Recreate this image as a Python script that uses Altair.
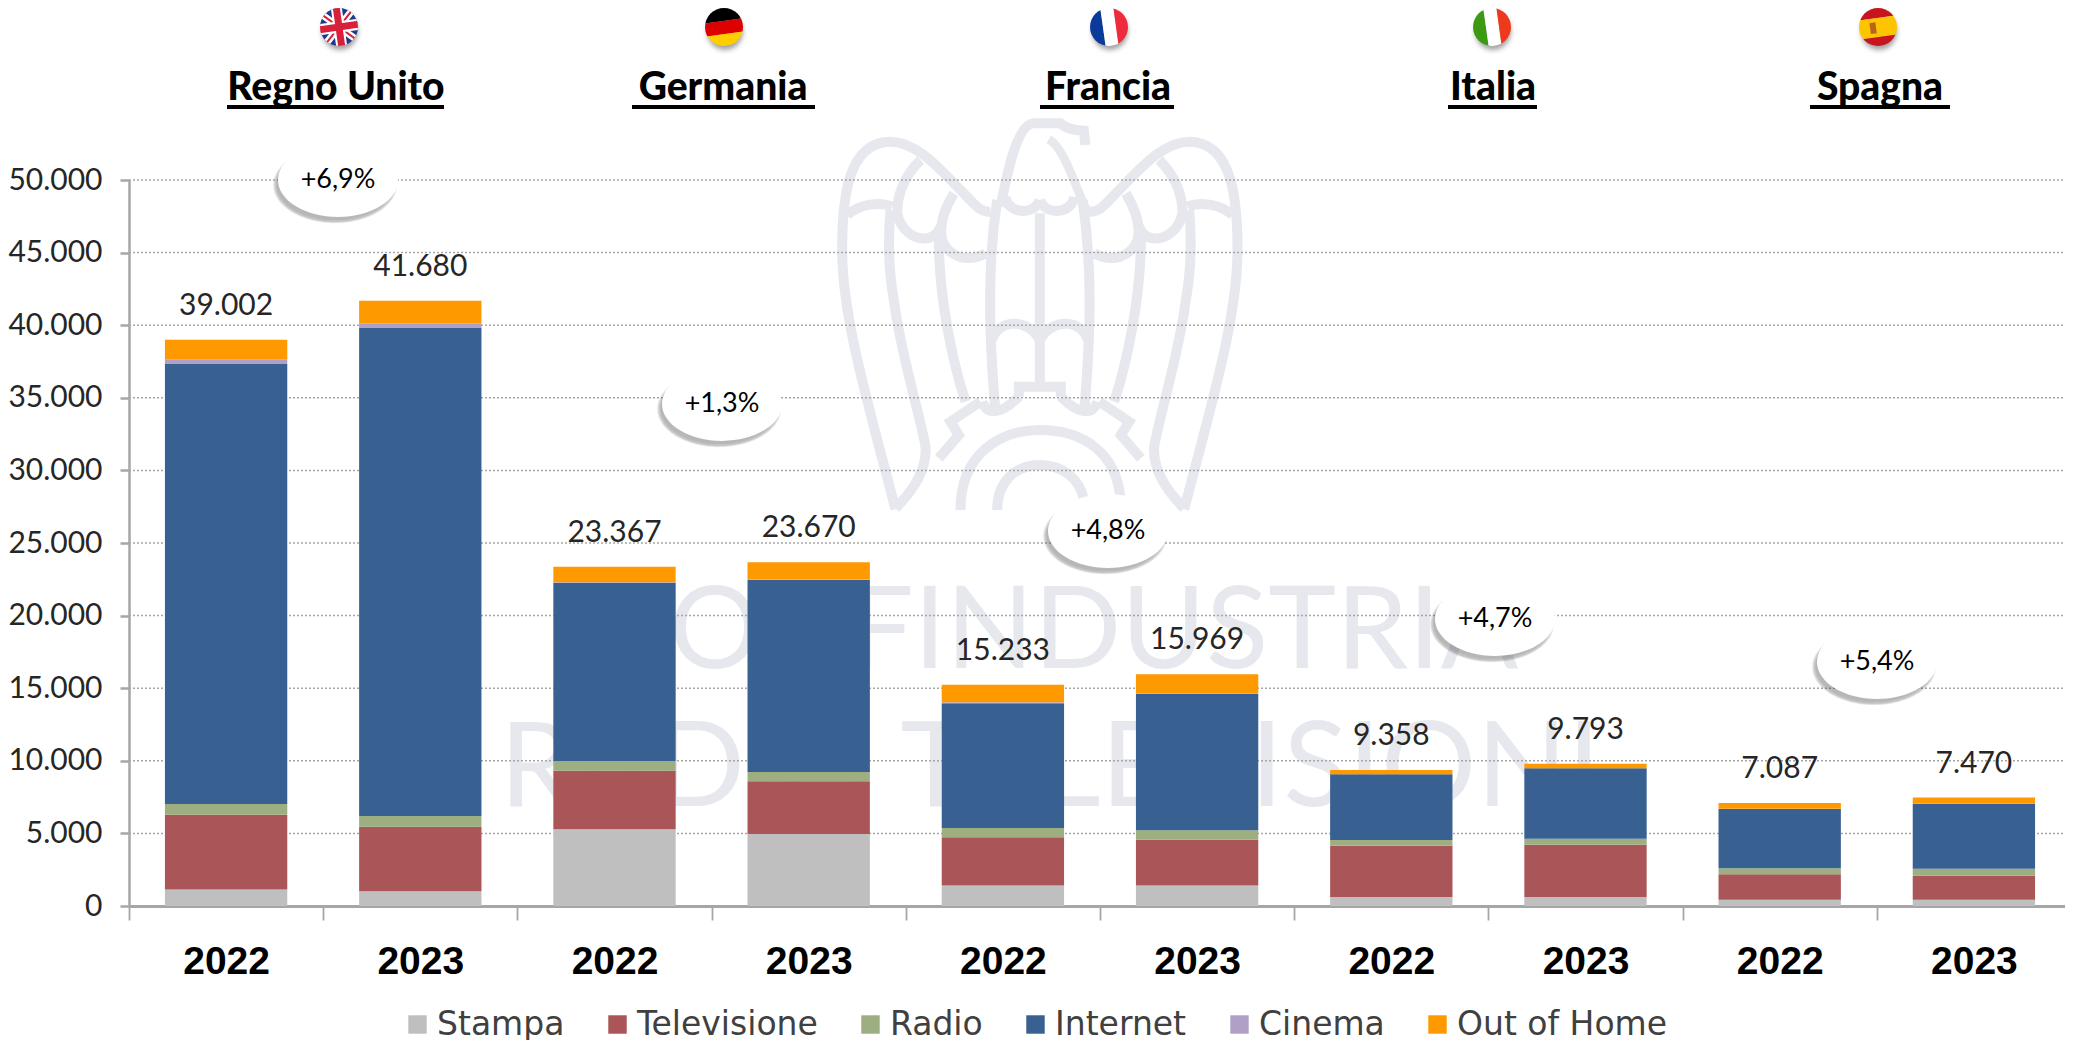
import base64
import altair as alt
import pandas as pd

# ---------- data ----------
COUNTRIES = ["Regno Unito", "Germania", "Francia", "Italia", "Spagna"]
YEARS = ["2022", "2023"]
SERIES = ["Stampa", "Televisione", "Radio", "Internet", "Cinema", "Out of Home"]
COLORS = ["#BFBFBF", "#AA5659", "#9DAF81", "#386192", "#B0A0C8", "#FF9900"]
STAMPA = [1130, 1020, 5280, 4960, 1420, 1420, 620, 620, 436, 436]
TELEVISIONE = [5160, 4445, 4040, 3625, 3308, 3148, 3535, 3604, 1744, 1652]
RADIO = [735, 735, 666, 645, 644, 644, 390, 413, 414, 483]
INTERNET = [30305, 33650, 12284, 13220, 8585, 9388, 4525, 4845, 4086, 4454]
CINEMA = [320, 280, 30, 30, 70, 50, 10, 8, 20, 15]
OUT_OF_HOME = [1352, 1550, 1067, 1190, 1206, 1319, 278, 303, 387, 430]
TOTALS = [39002, 41680, 23367, 23670, 15233, 15969, 9358, 9793, 7087, 7470]
GROWTH = ["+6,9%", "+1,3%", "+4,8%", "+4,7%", "+5,4%"]
TICKS = [5000, 10000, 15000, 20000, 25000, 30000, 35000, 40000, 45000, 50000]
WATERMARK = ["CONFINDUSTRIA", "RADIO TELEVISIONI"]

# ---------- layout (page pixels) ----------
OX, OY = 129, 180
W, H = 1942, 726
FLAG_X = [339, 724, 1109, 1492, 1878]
TITLE_X = [336, 723, 1108, 1493, 1880]
RULE_X1 = [227, 632, 1040, 1448, 1810]
RULE_X2 = [444, 815, 1174, 1537, 1950]
BUBBLE_X = [338, 722, 1108, 1495, 1877]
BUBBLE_Y = [180, 404, 531, 619, 662]
FONT = "Lato"
TEXTC = "#262626"
GRID = "#A6A6A6"
WM = "#E6E8EE"

keys = [f"{c} {y}" for c in COUNTRIES for y in YEARS]
arrays = [STAMPA, TELEVISIONE, RADIO, INTERNET, CINEMA, OUT_OF_HOME]
bars = pd.DataFrame(
    [{"k": k, "s": s, "o": j, "v": arr[i]}
     for j, (s, arr) in enumerate(zip(SERIES, arrays))
     for i, k in enumerate(keys)]
)
totals = pd.DataFrame({"k": keys, "v": TOTALS,
                       "t": [f"{t:,}".replace(",", ".") for t in TOTALS]})
grid = pd.DataFrame({"v": TICKS})

yscale = alt.Scale(domain=[0, 50000], nice=False)
yaxis = alt.Axis(
    values=[0] + TICKS, title=None, grid=False,
    labelExpr="replace(format(datum.value, ',d'), ',', '.')",
    labelFont=FONT, labelFontSize=30, labelColor=TEXTC, labelPadding=18,
    domainColor=GRID, domainWidth=2.5, tickColor=GRID, tickWidth=2.5, tickSize=9,
)
Y = alt.Y("v:Q", scale=yscale, axis=yaxis)
X = alt.X(
    "k:N", sort=keys, title=None,
    scale=alt.Scale(domain=keys, paddingInner=0, paddingOuter=0, round=False),
    axis=alt.Axis(
        labelExpr="slice(datum.label, -4)", labelAngle=0,
        labelFont="Liberation Sans", labelFontWeight="bold", labelFontSize=39,
        labelColor="#000000", labelPadding=22, tickBand="extent",
        tickSize=14, tickWidth=1.8, tickColor=GRID,
        domainColor=GRID, domainWidth=3,
    ),
)


def uri(svg):
    return "data:image/svg+xml;base64," + base64.b64encode(svg.encode()).decode()


def px(vals):
    return [v - OX for v in vals]


def py(vals):
    return [v - OY for v in vals]


XP = alt.X("x:Q", scale=None, axis=None)
YP = alt.Y("y:Q", scale=None, axis=None)

# ---------- watermark ----------
half = (
    "M285 1228C200 900 125 650 125 450C125 300 140 125 270 125C350 125 420 210 490 280"
    "C520 312 540 338 570 335"
    "M140 345C180 310 240 305 275 320M270 330C262 420 262 500 280 600C300 760 360 950 375 1040"
    "C380 1110 340 1170 285 1225"
    "M360 180C310 230 290 280 290 340C300 390 340 420 380 415C410 410 420 385 425 370"
    "M460 280C430 330 415 380 425 420C445 470 500 490 555 460"
    "M415 420C415 600 460 800 495 905"
    "M590 300C560 500 565 700 585 935"
    "M615 290C620 340 700 350 718 300"
    "M575 720C590 660 680 650 718 720"
    "M655 890L655 860L718 860"
    "M545 905C560 945 600 945 655 890M540 905L450 965L475 1005L415 1075"
)
eagle_svg = (
    '<svg xmlns="http://www.w3.org/2000/svg" viewBox="0 0 1437 1320" width="480" height="440">'
    f'<g fill="none" stroke="{WM}" stroke-width="30">'
    f'<path d="{half}"/>'
    f'<path d="{half}" transform="translate(1436 0) scale(-1 1)"/>'
    '<path d="M718 340L718 860"/>'
    '<path d="M600 320C620 220 650 70 700 70L780 70C800 90 830 90 850 92L855 135"/>'
    '<path d="M745 118C800 150 835 300 865 340" stroke-width="26"/>'
    '<path d="M480 1230C480 1060 600 990 718 990C850 990 950 1060 960 1200"/>'
    '<path d="M590 1230C590 1150 640 1095 718 1095C790 1095 840 1140 850 1200"/>'
    '</g></svg>'
)
eagle = alt.Chart(pd.DataFrame({"x": px([1040]), "y": py([320]), "u": [uri(eagle_svg)]})).mark_image(
    width=480, height=440).encode(x=XP, y=YP, url="u:N")

wm_line1 = alt.Chart(pd.DataFrame({"x": px([1056]), "y": py([633]), "t": WATERMARK[:1]})).mark_text(
    font=FONT, fontSize=115, color=WM, baseline="middle", align="center").encode(x=XP, y=YP, text="t:N")
wm_line2 = alt.Chart(pd.DataFrame({"x": px([1050]), "y": py([770]), "t": WATERMARK[1:]})).mark_text(
    font=FONT, fontSize=119, color=WM, baseline="middle", align="center").encode(x=XP, y=YP, text="t:N")

# ---------- grid, bars, totals ----------
grid_l = alt.Chart(grid).mark_rule(color=GRID, strokeWidth=1.5, strokeDash=[2, 2]).encode(y=Y)

bar_l = alt.Chart(bars).mark_bar(width=alt.RelativeBandSize(band=0.63)).encode(
    x=X,
    y=alt.Y("v:Q", scale=yscale, axis=yaxis, stack="zero"),
    order=alt.Order("o:Q"),
    color=alt.Color(
        "s:N",
        scale=alt.Scale(domain=SERIES, range=COLORS),
        legend=alt.Legend(
            orient="none", legendX=401 - OX, legendY=1008 - OY,
            direction="horizontal", columns=6, title=None, symbolType="square",
            symbolSize=340, symbolStrokeWidth=0, symbolOpacity=1,
            labelFont="DejaVu Sans", labelFontSize=33, labelColor="#404040", labelOffset=3,
            columnPadding=36, gridAlign="none", labelLimit=0,
        ),
    ),
)
total_l = alt.Chart(totals).mark_text(
    font=FONT, fontSize=30, color=TEXTC, dy=-34, baseline="middle", align="center"
).encode(x=X, y=Y, text="t:N")

# ---------- bubbles ----------
ELLIPSE = ("M-1,0C-1,-.34,-.552,-.615,0,-.615C.552,-.615,1,-.34,1,0"
           "C1,.34,.552,.615,0,.615C-.552,.615,-1,.34,-1,0Z")
bub = pd.DataFrame({"x": px(BUBBLE_X), "y": py(BUBBLE_Y), "t": GROWTH})
shadows = [
    alt.Chart(bub).mark_point(shape=ELLIPSE, size=size, filled=True, color="#404040",
                              opacity=0.09, strokeWidth=0, xOffset=dx, yOffset=dy
                              ).encode(x=XP, y=YP)
    for size, dx, dy in [(15400, -3, 5), (15000, -3, 5), (14600, -3, 5), (14200, -3, 5), (13800, -3, 4)]
]
bub_fill = alt.Chart(bub).mark_point(shape=ELLIPSE, size=14400, filled=True, color="#FFFFFF",
                                     opacity=1, strokeWidth=0).encode(x=XP, y=YP)
bub_text = alt.Chart(bub).mark_text(font=FONT, fontSize=27, color="#000000",
                                    baseline="middle", align="center").encode(x=XP, y=YP, text="t:N")

# ---------- country headers ----------
head = pd.DataFrame({
    "x": px(TITLE_X), "y": py([88] * 5), "t": COUNTRIES,
    "x1": px(RULE_X1), "x2": px(RULE_X2), "r": py([107] * 5),
})
title_l = alt.Chart(head).mark_text(font=FONT, fontWeight=900, fontSize=39, color="#000000",
                                    baseline="middle", align="center").encode(x=XP, y=YP, text="t:N")
rule_l = alt.Chart(head).mark_rule(color="#000000", strokeWidth=4).encode(
    x=alt.X("x1:Q", scale=None, axis=None), x2=alt.X2("x2:Q"),
    y=alt.Y("r:Q", scale=None, axis=None))


def flag(body, tilt=-8):
    return uri(
        '<svg xmlns="http://www.w3.org/2000/svg" viewBox="0 0 60 60" width="60" height="60">'
        '<defs><clipPath id="c"><circle cx="30" cy="26" r="19"/></clipPath>'
        '<filter id="b" x="-50%" y="-50%" width="200%" height="200%"><feGaussianBlur stdDeviation="2.5"/></filter></defs>'
        '<ellipse cx="31" cy="30" rx="18" ry="19" fill="#555" opacity=".55" filter="url(#b)"/>'
        f'<g clip-path="url(#c)"><g transform="rotate({tilt} 30 26)">{body}</g></g></svg>'
    )


UK = ('<rect x="5" y="0" width="50" height="50" fill="#1F3A8C"/>'
      '<path d="M5 2L55 50M55 2L5 50" stroke="#fff" stroke-width="7"/>'
      '<path d="M5 2L55 50M55 2L5 50" stroke="#D8203A" stroke-width="2"/>'
      '<path d="M30 0V55M0 26H60" stroke="#fff" stroke-width="11"/>'
      '<path d="M30 0V55M0 26H60" stroke="#D8203A" stroke-width="7"/>')
DE = ('<rect x="0" y="0" width="60" height="20" fill="#000"/>'
      '<rect x="0" y="20" width="60" height="13" fill="#DD0000"/>'
      '<rect x="0" y="33" width="60" height="20" fill="#FFCE00"/>')
FR = ('<rect x="0" y="0" width="24" height="60" fill="#0A3A9A"/>'
      '<rect x="24" y="0" width="13" height="60" fill="#fff"/>'
      '<rect x="37" y="0" width="24" height="60" fill="#EE2A3C"/>')
IT = ('<rect x="0" y="0" width="24" height="60" fill="#3C9A12"/>'
      '<rect x="24" y="0" width="13" height="60" fill="#fff"/>'
      '<rect x="37" y="0" width="24" height="60" fill="#EE3A1C"/>')
ES = ('<rect x="0" y="0" width="60" height="17" fill="#C8141E"/>'
      '<rect x="0" y="17" width="60" height="19" fill="#FFC400"/>'
      '<rect x="0" y="36" width="60" height="20" fill="#C8141E"/>'
      '<rect x="22" y="21" width="6" height="11" fill="#B5651D"/>')
flags = pd.DataFrame({
    "x": px(FLAG_X), "y": py([31] * 5),
    "u": [flag(UK), flag(DE), flag(FR), flag(IT), flag(ES)],
})
flag_l = alt.Chart(flags).mark_image(width=60, height=60).encode(x=XP, y=YP, url="u:N")

chart = alt.layer(
    eagle, wm_line1, wm_line2, grid_l, bar_l, total_l, *shadows, bub_fill, bub_text, flag_l, title_l, rule_l
).properties(
    width=W, height=H,
    autosize=alt.AutoSizeParams(type="none"),
    padding={"left": OX - 8, "top": OY - 8, "right": -6, "bottom": 134},
    background="#FFFFFF",
).configure_view(stroke=None)

chart.save("out.html", embed_options={"renderer": "svg", "actions": False})
